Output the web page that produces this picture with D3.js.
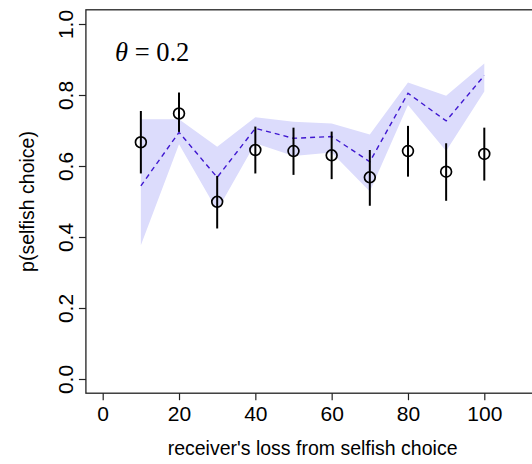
<!DOCTYPE html>
<html>
<head>
<meta charset="utf-8">
<script src="https://cdn.jsdelivr.net/npm/d3@7"></script>
<style>
  html, body { margin: 0; padding: 0; background: #fff; }
  svg { display: block; }
  text { font-family: "Liberation Sans", Arial, sans-serif; fill: #000; }
  text.serif { font-family: "Liberation Serif", "Times New Roman", serif; }
</style>
</head>
<body>
<svg id="chart" width="532" height="464"></svg>
<script>
// Receiver's loss levels
const losses = [10, 20, 30, 40, 50, 60, 70, 80, 90, 100];
// Observed proportion of selfish choices with interval bounds
const observed = [0.667, 0.748, 0.499, 0.645, 0.642, 0.630, 0.568, 0.642, 0.584, 0.634];
const obsLow   = [0.579, 0.696, 0.424, 0.579, 0.575, 0.563, 0.488, 0.570, 0.502, 0.559];
const obsHigh  = [0.755, 0.807, 0.572, 0.711, 0.708, 0.697, 0.645, 0.713, 0.664, 0.708];
// Model prediction and its band
const predicted = [0.544, 0.695, 0.568, 0.706, 0.678, 0.683, 0.612, 0.805, 0.727, 0.855];
const bandLow   = [0.377, 0.661, 0.475, 0.664, 0.628, 0.638, 0.528, 0.772, 0.642, 0.810];
const bandHigh  = [0.732, 0.732, 0.654, 0.737, 0.725, 0.720, 0.689, 0.835, 0.798, 0.889];
// Axis ticks
const xTicks = [0, 20, 40, 60, 80, 100];
const yTicks = [0.0, 0.2, 0.4, 0.6, 0.8, 1.0];

const svg = d3.select("#chart");

const x = d3.scaleLinear().domain([0, 100]).range([102.7, 484.3]);
const y = d3.scaleLinear().domain([0, 1]).range([379, 24]);

// Plot region padded 4% beyond the data range
const xMin = -4.4, xMax = 114.4, yMin = -0.04, yMax = 1.04;
const boxL = x(xMin), boxR = x(xMax), boxT = y(yMax), boxB = y(yMin);

const rows = losses.map((d, i) => ({
  x: d, obs: observed[i], lo: obsLow[i], hi: obsHigh[i],
  pred: predicted[i], bLo: bandLow[i], bHi: bandHigh[i]
}));

// Prediction band
const band = d3.area()
  .x(d => x(d.x))
  .y0(d => y(d.bLo))
  .y1(d => y(d.bHi));
svg.append("path")
  .datum(rows)
  .attr("d", band)
  .attr("fill", "#dcdcfc")
  .attr("stroke", "none");

// Prediction line
svg.append("path")
  .datum(rows)
  .attr("d", d3.line().x(d => x(d.x)).y(d => y(d.pred)))
  .attr("fill", "none")
  .attr("stroke", "#3f17d0")
  .attr("stroke-width", 1.4)
  .attr("stroke-dasharray", "5,4");

// Error bars
svg.append("g").selectAll("line")
  .data(rows)
  .join("line")
  .attr("x1", d => x(d.x)).attr("x2", d => x(d.x))
  .attr("y1", d => y(d.lo)).attr("y2", d => y(d.hi))
  .attr("stroke", "#000")
  .attr("stroke-width", 2);

// Observed points
svg.append("g").selectAll("circle")
  .data(rows)
  .join("circle")
  .attr("cx", d => x(d.x))
  .attr("cy", d => y(d.obs))
  .attr("r", 5.4)
  .attr("fill", "none")
  .attr("stroke", "#000")
  .attr("stroke-width", 1.7);

// Frame (left, top, bottom; right side runs off the canvas)
svg.append("rect")
  .attr("x", boxL).attr("y", boxT)
  .attr("width", boxR - boxL).attr("height", boxB - boxT)
  .attr("fill", "none")
  .attr("stroke", "#222")
  .attr("stroke-width", 1.3);

// X axis
const xAxis = d3.axisBottom(x)
  .tickValues(xTicks)
  .tickSize(7)
  .tickPadding(0)
  .tickFormat(d3.format("d"));
const gx = svg.append("g").attr("transform", `translate(0,${boxB})`).call(xAxis);
gx.select(".domain").remove();
gx.selectAll(".tick line").attr("stroke", "#222").attr("stroke-width", 1.2);
gx.selectAll(".tick text")
  .attr("y", 421.5 - boxB)
  .attr("dy", null)
  .attr("font-size", 21)
  .attr("fill", "#000");

// Y axis with rotated labels
const yAxis = d3.axisLeft(y)
  .tickValues(yTicks)
  .tickSize(7)
  .tickFormat(d3.format(".1f"));
const gy = svg.append("g").attr("transform", `translate(${boxL},0)`).call(yAxis);
gy.select(".domain").remove();
gy.selectAll(".tick line").attr("stroke", "#222").attr("stroke-width", 1.2);
gy.selectAll(".tick text")
  .attr("x", null).attr("dy", null)
  .attr("text-anchor", "middle")
  .attr("transform", `translate(${72.8 - boxL},0) rotate(-90)`)
  .attr("font-size", 21)
  .attr("fill", "#000");

// Axis titles
svg.append("text")
  .attr("x", (boxL + boxR) / 2)
  .attr("y", 455)
  .attr("text-anchor", "middle")
  .attr("font-size", 19.5)
  .text("receiver's loss from selfish choice");

svg.append("text")
  .attr("transform", `translate(33.5,${(boxT + boxB) / 2}) rotate(-90)`)
  .attr("text-anchor", "middle")
  .attr("font-size", 19.5)
  .text("p(selfish choice)");

// Parameter annotation
const ann = svg.append("text")
  .attr("class", "serif")
  .attr("x", 115)
  .attr("y", 61)
  .attr("font-size", 26.5);
ann.append("tspan").attr("font-style", "italic").text("θ");
ann.append("tspan").text(" = 0.2");
</script>
</body>
</html>
